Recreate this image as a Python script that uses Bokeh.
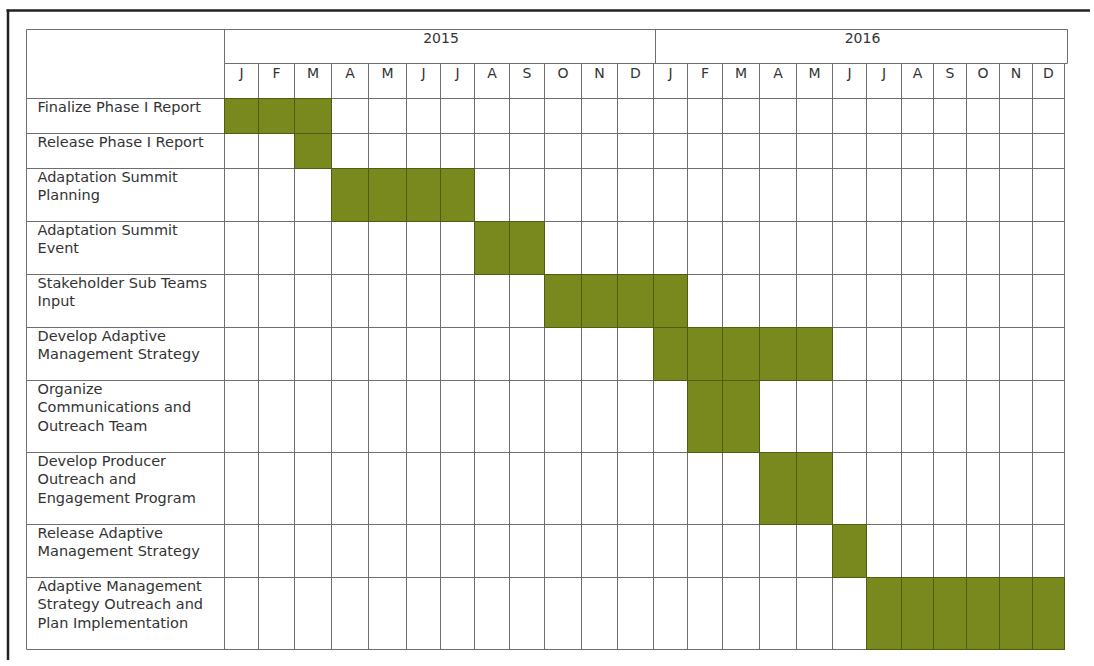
from bokeh.plotting import figure
from bokeh.models import Range1d
from bokeh.core.properties import value
from bokeh.embed import file_html
from bokeh.resources import INLINE

# ---- data ----
years = ["2015", "2016"]
months = ["J", "F", "M", "A", "M", "J", "J", "A", "S", "O", "N", "D"]
task_lines = [
    ["Finalize Phase I Report"],
    ["Release Phase I Report"],
    ["Adaptation Summit", "Planning"],
    ["Adaptation Summit", "Event"],
    ["Stakeholder Sub Teams", "Input"],
    ["Develop Adaptive", "Management Strategy"],
    ["Organize", "Communications and", "Outreach Team"],
    ["Develop Producer", "Outreach and", "Engagement Program"],
    ["Release Adaptive", "Management Strategy"],
    ["Adaptive Management", "Strategy Outreach and", "Plan Implementation"],
]
# month index (0 = Jan 2015) of first and last active month
task_start = [0, 2, 3, 7, 9, 12, 13, 15, 17, 18]
task_end = [2, 2, 6, 8, 12, 16, 14, 16, 17, 23]

# ---- layout (pixels) ----
PW, PH = 1090, 660
# column widths of the table (style: auto-sized table columns)
COL_W = [34, 36, 37, 37, 38, 34, 34, 35, 35, 37, 36, 36,
         34, 35, 37, 37, 36, 34, 35, 32, 33, 33, 33, 32]
GX0 = 224.0                # grid start, px
LBL_X0 = 26.0              # table left edge, px
TOP = 29.0                 # table top, px
YEAR_B = 63.0              # bottom of year row
MON_B = 98.0               # bottom of month row
ROW_H = {1: 35.0, 2: 53.0, 3: 72.0}
YEAR_OVERHANG = 3.0

edges = [GX0]
for w in COL_W:
    edges.append(edges[-1] + w)
nmon = len(months) * len(years)
GX1 = edges[nmon]

p = figure(width=PW, height=PH, output_backend="svg", toolbar_location=None,
           x_range=Range1d(0, PW), y_range=Range1d(PH, 0), min_border=0)
p.axis.visible = False
p.xgrid.visible = False
p.ygrid.visible = False
p.outline_line_color = None

# row positions
tops, bots = [], []
y = MON_B
for lines in task_lines:
    tops.append(y)
    y += ROW_H[len(lines)]
    bots.append(y)
TABLE_B = bots[-1]

GRID = "#6e6e6e"
# horizontal lines
hx0, hx1, hy = [], [], []
for yy in [MON_B] + bots:
    hx0.append(LBL_X0); hx1.append(GX1); hy.append(yy)
p.segment(x0=hx0, x1=hx1, y0=hy, y1=hy, line_color=GRID, line_width=1)
p.segment(x0=[LBL_X0, GX0], x1=[GX1 + YEAR_OVERHANG] * 2, y0=[TOP, YEAR_B],
          y1=[TOP, YEAR_B], line_color=GRID, line_width=1)
# vertical month lines
p.segment(x0=edges, x1=edges, y0=[YEAR_B] * len(edges), y1=[TABLE_B] * len(edges),
          line_color=GRID, line_width=1)
p.segment(x0=[LBL_X0, GX0], x1=[LBL_X0, GX0], y0=[TOP, TOP], y1=[TABLE_B, YEAR_B],
          line_color=GRID, line_width=1)
# year dividers
yb = [edges[12 * k] for k in range(len(years))] + [GX1 + YEAR_OVERHANG]
yd = [edges[12] + 2, GX1 + YEAR_OVERHANG]
p.segment(x0=yd, x1=yd, y0=[TOP] * 2, y1=[YEAR_B] * 2, line_color=GRID, line_width=1)

# ---- bars ----
bl, br, bt, bb = [], [], [], []
for i, (s, e) in enumerate(zip(task_start, task_end)):
    for m in range(s, e + 1):
        bl.append(edges[m]); br.append(edges[m + 1]); bt.append(tops[i]); bb.append(bots[i])
p.quad(left=bl, right=br, top=bt, bottom=bb, fill_color="#7a891d",
       line_color="#4f5c14", line_width=1)

FONT = value("DejaVu Sans")
# year labels
yc = [(edges[0] + edges[12]) / 2 + 2, (edges[12] + GX1 + YEAR_OVERHANG) / 2 + 2]
p.text(x=yc, y=[TOP + 8.5] * 2, text=years, text_font=FONT,
       text_font_size="14px", text_align="center", text_baseline="alphabetic",
       text_color="#333333")
# month labels
mx = [(edges[m] + edges[m + 1]) / 2 for m in range(nmon)]
p.text(x=mx, y=[MON_B - 26] * nmon, text=months * len(years), text_font=FONT,
       text_font_size="14px", text_align="center", text_baseline="alphabetic",
       text_color="#333333")
# task labels
tx, ty, tt = [], [], []
for i, lines in enumerate(task_lines):
    for k, ln in enumerate(lines):
        tx.append(37); ty.append(tops[i] + 8.5 + 18.3 * k); tt.append(ln)
p.text(x=tx, y=ty, text=tt, text_font=FONT, text_font_size="14.5px",
       text_align="left", text_baseline="alphabetic", text_color="#333333")

# outer black frame (top & left)
p.segment(x0=[6, 7.5], x1=[PW, 7.5], y0=[10, 9], y1=[10, PH],
          line_color="#222222", line_width=2.5)

open("out.html", "w").write(file_html(p, INLINE))
